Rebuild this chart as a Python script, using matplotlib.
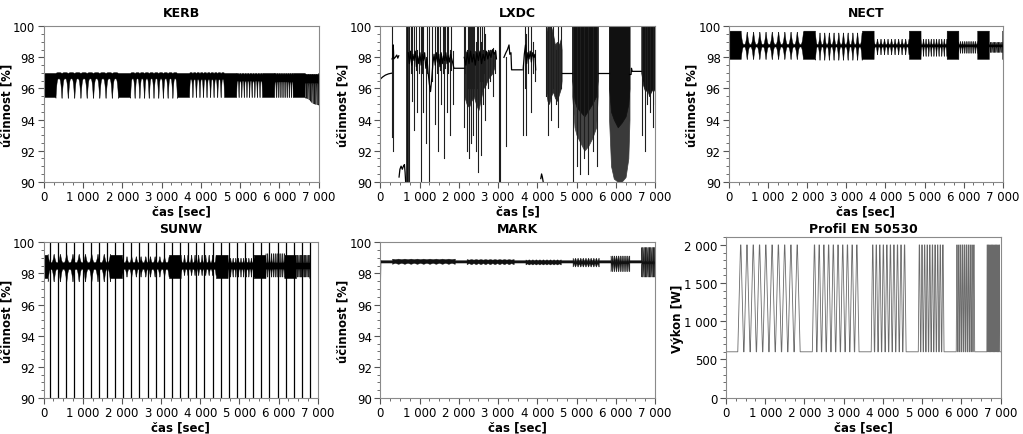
import numpy as np
import matplotlib
matplotlib.use("Agg")
import matplotlib.pyplot as plt
from matplotlib.ticker import MultipleLocator, FuncFormatter

# ---------------- data ----------------
# EN 50530 test profile (power levels, group starts, ramp durations, repetitions)
profile_low_w = 600
profile_high_w = 2000
group_start_s = [300, 2200, 3700, 4900, 5867, 6647]
ramp_duration_s = [70, 50, 35, 23.3, 14, 7]
group_repeats = [10, 10, 10, 10, 10, 10]
dwell_s = 10
time_end_s = 7000

# Envelopes of the efficiency traces per profile group (lo/hi at high power = base,
# at low power = peak) and in idle periods
kerb_base_lo = [96.65, 96.65, 96.6, 96.5, 96.45, 96.35]
kerb_base_hi = [97.05, 97.05, 97.05, 97.0, 97.0, 96.95]
kerb_peak_lo = [95.4, 95.4, 95.45, 95.45, 95.45, 95.4]
kerb_peak_hi = [97.0, 97.0, 97.0, 96.95, 96.95, 96.9]
kerb_idle = (95.45, 97.0)
kerb_start_peak = 98.9
kerb_tail_t = [6700, 6850, 7000]
kerb_tail_drop = [0.0, 0.35, 0.45]

nect_base_lo = [98.7, 98.7, 98.7, 98.7, 98.7, 98.7]
nect_base_hi = [98.86, 98.86, 98.86, 98.86, 98.86, 98.86]
nect_peak_lo = [97.9, 97.85, 98.2, 98.1, 98.3, 98.35]
nect_peak_hi = [99.65, 99.6, 99.2, 99.2, 99.05, 99.0]
nect_idle = (97.9, 99.72)

sunw_shift_s = 200
sunw_end_s = 6806
sunw_base_lo = [98.3, 98.3, 98.3, 98.3, 98.3, 98.3]
sunw_base_hi = [98.72, 98.72, 98.72, 98.72, 98.72, 98.72]
sunw_peak_lo = [97.5, 97.8, 97.9, 97.8, 97.8, 97.8]
sunw_peak_hi = [99.25, 99.1, 99.2, 99.0, 99.3, 99.2]
sunw_idle = (97.7, 99.2)
sunw_dropouts_s = [162, 370, 577, 785, 992, 1200, 1408, 1615, 1823, 2030, 2238,
                   2446, 2653, 2861, 3068, 3276, 3484, 3691, 3899, 4107, 4314,
                   4522, 4729, 4937, 5145, 5352, 5560, 5767, 5975, 6183, 6391,
                   6598, 6806]

mark_base_lo = [98.68, 98.66, 98.64, 98.64, 98.64, 98.62]
mark_base_hi = [98.92, 98.89, 98.86, 98.82, 98.82, 98.82]
mark_peak_lo = [98.62, 98.6, 98.58, 98.45, 98.15, 97.8]
mark_peak_hi = [98.95, 98.92, 98.9, 99.0, 99.15, 99.7]
mark_idle = (98.7, 98.85)
mark_start_dip = 97.2

# LXDC: polylines, dense blocks (jagged lower edge) and single spikes
lxdc_lines = [
    [(0, 96.6), (60, 96.74), (130, 96.86), (210, 96.94), (285, 96.98)],
    [(300, 97.9), (318, 98.0), (331, 98.8), (342, 97.9), (380, 98.0), (420, 98.15),
     (445, 97.95), (470, 98.1)],
    [(478, 90.3), (500, 90.8), (530, 91.0), (560, 90.8), (590, 91.0), (615, 91.1),
     (632, 90.6), (645, 90.0)],
    [(713, 98.3), (740, 97.6), (770, 98.4), (800, 97.5), (830, 98.2), (860, 97.8),
     (890, 98.4), (920, 97.4), (950, 98.1), (980, 97.6), (1010, 98.3), (1040, 97.5),
     (1070, 98.2), (1100, 97.8), (1130, 98.3), (1160, 97.3), (1190, 97.9), (1220, 97.0),
     (1250, 96.3), (1280, 95.8), (1310, 96.6), (1340, 97.6), (1370, 98.2), (1400, 97.5),
     (1430, 98.3), (1460, 97.7), (1490, 98.2), (1520, 97.4), (1550, 98.3), (1580, 97.6),
     (1610, 98.1), (1640, 97.8), (1670, 98.3), (1700, 97.6), (1730, 98.1), (1760, 97.7),
     (1790, 98.2), (1820, 97.9), (1850, 97.6), (1875, 97.3), (2135, 97.3)],
    [(2140, 98.0), (2180, 97.5), (2220, 98.3), (2260, 97.6), (2300, 98.4), (2340, 97.7),
     (2380, 98.2), (2420, 97.5), (2460, 98.3), (2500, 97.8), (2540, 98.4), (2580, 97.6),
     (2620, 98.2), (2660, 97.8), (2700, 98.4), (2740, 97.9), (2780, 98.3), (2820, 98.0),
     (2860, 98.5), (2900, 98.2), (2940, 98.4), (2960, 97.9)],
    [(3150, 98.0), (3200, 98.3), (3240, 98.5), (3280, 98.8), (3300, 98.2), (3330, 98.3),
     (3345, 97.2), (3610, 97.2)],
    [(3640, 97.2), (3670, 98.2), (3700, 98.8), (3730, 97.6), (3760, 98.3), (3790, 97.9),
     (3820, 98.4), (3850, 97.7), (3880, 98.3), (3910, 98.0), (3940, 98.2), (3960, 97.2)],
    [(4090, 90.2), (4110, 90.5), (4130, 90.3), (4150, 90.0)],
    [(4620, 97.0), (4890, 97.0)],
    [(5540, 97.0), (5830, 97.0)],
    [(6350, 96.9), (6390, 96.9), (6400, 97.3), (6420, 97.1), (6650, 97.1)],
]
lxdc_dense = [  # times, lower edge, upper edge, shade
    ([646, 713], [90.0, 90.0], [100, 100], "#111111"),
    ([2140, 2200, 2260, 2320, 2380, 2440, 2500, 2560, 2620, 2680, 2740, 2800, 2860, 2920],
     [95.5, 95.0, 94.8, 95.2, 95.5, 95.0, 94.6, 95.3, 96.0, 96.2, 96.6, 96.8, 97.0, 97.5],
     [98.3, 98.4, 98.4, 98.3, 98.4, 98.4, 98.3, 98.4, 98.4, 98.3, 98.4, 98.5, 98.4, 98.3],
     "#2e2e2e"),
    ([4220, 4260, 4300, 4350, 4400, 4450, 4500, 4550, 4600, 4620],
     [96.0, 95.2, 95.0, 95.5, 95.8, 95.4, 95.2, 95.6, 96.0, 96.5],
     [99.5, 100, 100, 100, 99.5, 98.8, 99.0, 98.8, 99.2, 98.5], "#2a2a2a"),
    ([4890, 4950, 5000, 5100, 5200, 5300, 5400, 5500, 5540],
     [95.5, 93.5, 93.0, 92.5, 92.0, 92.3, 92.8, 93.5, 95.5],
     [100] * 9, "#444444"),
    ([4890, 4950, 5000, 5100, 5200, 5300, 5400, 5500, 5540],
     [96.5, 95.2, 94.8, 94.5, 94.2, 94.6, 95.0, 95.5, 96.5],
     [100] * 9, "#111111"),
    ([5830, 5880, 5950, 6050, 6150, 6250, 6320, 6350],
     [94.0, 91.0, 90.2, 90.0, 90.0, 90.3, 91.5, 94.0],
     [100] * 8, "#3a3a3a"),
    ([5830, 5880, 5950, 6050, 6150, 6250, 6320, 6350],
     [96.0, 94.5, 94.0, 93.5, 93.8, 94.2, 95.0, 96.0],
     [100] * 8, "#111111"),
    ([6650, 6700, 6750, 6800, 6850, 6900, 6950, 7000],
     [97.0, 96.2, 95.8, 96.0, 95.5, 95.8, 96.0, 95.8],
     [100] * 8, "#111111"),
]
lxdc_spikes = [  # t, lo, hi
    (290, 92.9, 100), (320, 92.0, 98.5), (740, 90, 100), (770, 97.0, 100),
    (800, 95.2, 100), (866, 93.3, 100), (900, 97.2, 100), (943, 94.5, 98.5),
    (985, 97.0, 100), (1027, 90, 100), (1060, 97.0, 100), (1095, 94.5, 100),
    (1163, 92.5, 98), (1200, 97.0, 100), (1240, 90, 100), (1330, 96.5, 100),
    (1392, 93.7, 100), (1440, 97.0, 100), (1477, 92.0, 100), (1510, 97.2, 100),
    (1545, 95.0, 98.2), (1590, 97.0, 100), (1621, 91.5, 100), (1660, 97.3, 100),
    (1689, 94.5, 100), (1730, 97.0, 100), (1774, 93.0, 98.5), (1800, 97.2, 100),
    (1842, 95.0, 98.4), (2140, 93.5, 100), (2170, 97.0, 100), (2200, 92.0, 98.5),
    (2230, 96.0, 100), (2260, 91.5, 100), (2290, 96.0, 100), (2310, 92.5, 100),
    (2340, 96.0, 100), (2370, 93.0, 100), (2400, 96.0, 100), (2430, 92.0, 99),
    (2470, 96.0, 100), (2500, 90.6, 100), (2530, 96.5, 100), (2560, 91.7, 99),
    (2590, 96.5, 100), (2620, 95.0, 98.5), (2650, 97.0, 100), (2680, 94.0, 99.5),
    (2740, 96.0, 98.5), (2800, 96.5, 98.5), (2860, 95.5, 98.6), (2920, 97.0, 98.5),
    (3033, 90, 100), (3040, 90, 100), (3195, 92.3, 98.0), (3645, 93.0, 97.5),
    (3690, 96, 100), (3720, 93.0, 99.5), (3772, 97.0, 100), (3840, 94.5, 100),
    (3900, 97.0, 99.0), (3940, 96.5, 98.5), (4215, 95.5, 100), (4283, 93.0, 100),
    (4350, 94.0, 100), (4410, 96.0, 100), (4470, 95.0, 98.5), (4538, 93.5, 100),
    (4598, 96.0, 100), (4920, 90, 100), (5000, 91, 100), (5100, 90.5, 100),
    (5200, 91.5, 100), (5300, 90.5, 100), (5420, 92, 100), (5520, 91, 100),
    (6670, 93, 100), (6750, 92.0, 100), (6800, 95.0, 100), (6880, 94.5, 100),
    (6960, 93.5, 100), (6990, 95, 100),
]

# ---------------- profile vertices ----------------
vx, vy = [0.0], [profile_low_w]
group_end_s = []
for t0, rd, n in zip(group_start_s, ramp_duration_s, group_repeats):
    tt = t0
    for _ in range(n):
        vx += [tt, tt + rd, tt + rd + dwell_s, tt + 2 * rd + dwell_s]
        vy += [profile_low_w, profile_high_w, profile_high_w, profile_low_w]
        tt += 2 * rd + 2 * dwell_s
    group_end_s.append(tt)
vx.append(time_end_s)
vy.append(profile_low_w)
vx = np.array(vx)
vy = np.array(vy, dtype=float)

t = np.arange(0, time_end_s + 0.5, 1.0)


def group_of(tt):
    g = np.full(tt.shape, -1)
    for i, (a, b) in enumerate(zip(group_start_s, group_end_s)):
        g[(tt >= a) & (tt < b)] = i
    return g


def envelope(tt, base_lo, base_hi, peak_lo, peak_hi, idle, expo, shift=0.0):
    P = np.interp(tt + shift, vx, vy)
    u = (P - profile_low_w) / (profile_high_w - profile_low_w)
    w = (1 - u) ** expo
    g = group_of(tt + shift)
    gi = np.clip(g, 0, None)
    bl, bh = np.array(base_lo)[gi], np.array(base_hi)[gi]
    pl, ph = np.array(peak_lo)[gi], np.array(peak_hi)[gi]
    lo = bl - (bl - pl) * w
    hi = bh + (ph - bh) * w
    lo = np.where(g < 0, idle[0], lo)
    hi = np.where(g < 0, idle[1], hi)
    return lo, hi, w


# ---------------- figure ----------------
W, H = 1023, 435
fig = plt.figure(figsize=(W / 100, H / 100), dpi=100)
plt.rcParams["font.family"] = ["DejaVu Sans"]


def add_ax(left, top, right, bottom):
    return fig.add_axes([left / W, 1 - bottom / H, (right - left) / W, (bottom - top) / H])


fmt = FuncFormatter(lambda v, p: f"{v:,.0f}".replace(",", " "))


def style(ax, title, xlabel, ylabel, ylim, ymaj, ymin, tpad=7.5):
    ax.set_xlim(0, time_end_s)
    ax.set_ylim(*ylim)
    ax.xaxis.set_major_locator(MultipleLocator(1000))
    ax.xaxis.set_minor_locator(MultipleLocator(250))
    ax.yaxis.set_major_locator(MultipleLocator(ymaj))
    ax.yaxis.set_minor_locator(MultipleLocator(ymin))
    ax.xaxis.set_major_formatter(fmt)
    ax.yaxis.set_major_formatter(fmt)
    ax.tick_params(which="major", direction="out", length=4, width=0.8,
                   color="#555555", labelcolor="black", labelsize=8.5, pad=2)
    ax.tick_params(which="minor", direction="out", length=2, width=0.6, color="#555555")
    for s in ax.spines.values():
        s.set_color("#8a8a8a")
        s.set_linewidth(0.8)
    ax.set_title(title, fontsize=9, fontweight="bold", pad=tpad)
    ax.set_xlabel(xlabel, fontsize=8.5, fontweight="bold", labelpad=1)
    ax.set_ylabel(ylabel, fontsize=8.5, fontweight="bold", labelpad=0)


eff_label = "účinnost [%]"

# KERB
ax = add_ax(43.7, 27.3, 318.7, 182.7)
lo, hi, w = envelope(t, kerb_base_lo, kerb_base_hi, kerb_peak_lo, kerb_peak_hi, kerb_idle, 3)
lo = lo - np.interp(t, kerb_tail_t, kerb_tail_drop) * np.where(group_of(t) < 0, 1.0, w)
ax.fill_between(t, lo, hi, color="black", lw=0.3)
ax.plot([0, 0, 6, 12], [96.0, kerb_start_peak, 97.5, 96.5], color="black", lw=0.9)
style(ax, "KERB", "čas [sec]", eff_label, (90, 100), 2, 0.5)

# LXDC
ax = add_ax(380.3, 27.3, 655.0, 182.7)
for ts_, lo_, hi_, c in lxdc_dense:
    ax.fill_between(ts_, lo_, hi_, color=c, lw=0.5)
for tt, slo, shi in lxdc_spikes:
    ax.plot([tt, tt], [slo, shi], color="#1e1e1e", lw=0.8)
for line in lxdc_lines:
    xs, ys = zip(*line)
    ax.plot(xs, ys, color="black", lw=0.9)
style(ax, "LXDC", "čas [s]", eff_label, (90, 100), 2, 0.5)

# NECT
ax = add_ax(729.0, 27.3, 1002.7, 182.7)
lo, hi, w = envelope(t, nect_base_lo, nect_base_hi, nect_peak_lo, nect_peak_hi, nect_idle, 2.5)
ax.fill_between(t, lo, hi, color="black", lw=0.3)
style(ax, "NECT", "čas [sec]", eff_label, (90, 100), 2, 0.5)

# SUNW
ax = add_ax(43.7, 243.3, 317.7, 399.0)
ts = t[t <= sunw_end_s]
lo, hi, w = envelope(ts, sunw_base_lo, sunw_base_hi, sunw_peak_lo, sunw_peak_hi, sunw_idle, 2.5,
                     shift=sunw_shift_s)
ax.fill_between(ts, lo, hi, color="black", lw=0.3)
for tt in sunw_dropouts_s:
    ax.plot([tt, tt], [89, 101], color="black", lw=0.9)
style(ax, "SUNW", "čas [sec]", eff_label, (90, 100), 2, 0.5)

# MARK
ax = add_ax(380.3, 243.3, 655.0, 399.0)
lo, hi, w = envelope(t, mark_base_lo, mark_base_hi, mark_peak_lo, mark_peak_hi, mark_idle, 1.0)
ax.fill_between(t, lo, hi, color="#111111", lw=0.3)
ax.plot([0, 0, 8], [98.8, mark_start_dip, 98.8], color="black", lw=0.9)
style(ax, "MARK", "čas [sec]", eff_label, (90, 100), 2, 0.5)

# Profile
ax = add_ax(726.0, 238.3, 1000.7, 398.6)
ax.plot(vx, vy, color="#6a6a6a", lw=0.6)
style(ax, "Profil EN 50530", "čas [sec]", "Výkon [W]", (0, 2100), 500, 100, tpad=4)

fig.savefig("out.png", dpi=100)
